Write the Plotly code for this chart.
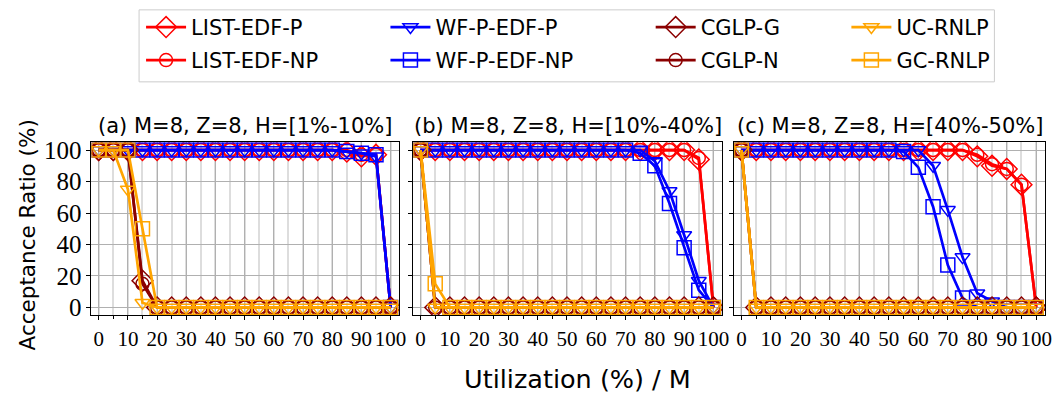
import plotly.graph_objects as go

W, H = 1062, 405

utilization = [0, 5, 10, 15, 20, 25, 30, 35, 40, 45, 50, 55, 60, 65, 70, 75, 80, 85, 90, 95, 100]

panel_titles = ["(a) M=8, Z=8, H=[1%-10%]", "(b) M=8, Z=8, H=[10%-40%]", "(c) M=8, Z=8, H=[40%-50%]"]
series_names = ["LIST-EDF-P", "LIST-EDF-NP", "WF-P-EDF-P", "WF-P-EDF-NP", "CGLP-G", "CGLP-N", "UC-RNLP", "GC-RNLP"]

# Panel (a)
a_list_p  = [100]*17 + [99, 96, 97, 0]
a_list_np = [100]*17 + [100, 97, 97, 0]
a_wf_p    = [100]*17 + [99, 98, 96, 0]
a_wf_np   = [100]*17 + [99, 98, 97, 0]
a_cglp_g  = [100, 100, 100, 17, 0] + [0]*16
a_cglp_n  = [100, 100, 100, 15, 0] + [0]*16
a_uc      = [100, 100, 75, 3, 0] + [0]*16
a_gc      = [100, 100, 100, 50, 0] + [0]*16

# Panel (b)
b_list_p  = [100]*19 + [94, 0]
b_list_np = [100]*19 + [95, 0]
b_wf_p    = [100]*16 + [93, 74, 46, 17, 0]
b_wf_np   = [100]*15 + [98, 90, 66, 38, 11, 0]
b_cglp_g  = [100, 0] + [0]*19
b_cglp_n  = [100, 0] + [0]*19
b_uc      = [100, 0] + [0]*19
b_gc      = [100, 15] + [0]*19

# Panel (c)
c_list_p  = [100]*16 + [96, 90, 88, 78, 0]
c_list_np = [100]*16 + [97, 91, 88, 78, 0]
c_wf_p    = [100]*13 + [90, 62, 32, 9, 4, 0, 0, 0]
c_wf_np   = [100]*11 + [99, 89, 64, 27, 6, 0, 0, 0, 0, 0]
c_cglp_g  = [100, 0] + [0]*19
c_cglp_n  = [100, 0] + [0]*19
c_uc      = [100, 0] + [0]*19
c_gc      = [100, 0] + [0]*19

panels = [
    [a_list_p, a_list_np, a_wf_p, a_wf_np, a_cglp_g, a_cglp_n, a_uc, a_gc],
    [b_list_p, b_list_np, b_wf_p, b_wf_np, b_cglp_g, b_cglp_n, b_uc, b_gc],
    [c_list_p, c_list_np, c_wf_p, c_wf_np, c_cglp_g, c_cglp_n, c_uc, c_gc],
]

colors = ["#ff0000", "#ff0000", "#0000ff", "#0000ff", "#8b0000", "#8b0000", "#ffa500", "#ffa500"]
symbols = ["diamond-open", "circle-open", "triangle-down-open", "square-open",
           "diamond-open", "circle-open", "triangle-down-open", "square-open"]
msizes = [16, 13, 13, 14, 16, 13, 13, 14]

xdoms = [(92, 402), (416, 727), (739, 1052)]
ytop, ybot = 141, 319

fig = go.Figure()

leg_cols = [142, 388, 655, 852]
leg_rows = [23, 57]

for p, data in enumerate(panels):
    xa = "x" if p == 0 else f"x{p+1}"
    ya = "y" if p == 0 else f"y{p+1}"
    for i, vals in enumerate(data):
        legname = "legend" if i == 0 else f"legend{i+1}"
        fig.add_trace(go.Scatter(
            x=utilization, y=vals, name=series_names[i], mode="lines+markers",
            line=dict(color=colors[i], width=2.7),
            marker=dict(symbol=symbols[i], size=msizes[i], color=colors[i], line=dict(width=1.5, color=colors[i])),
            xaxis=xa, yaxis=ya, showlegend=(p == 0), legend=legname,
        ))

xtickfont = dict(family="Liberation Serif", size=21, color="#000")
ytickfont = dict(family="Liberation Serif", size=25, color="#000")
layout = dict(
    width=W, height=H, margin=dict(l=0, r=0, t=0, b=0),
    plot_bgcolor="white", paper_bgcolor="white",
)
for p, (x0, x1) in enumerate(xdoms):
    xk = "xaxis" if p == 0 else f"xaxis{p+1}"
    yk = "yaxis" if p == 0 else f"yaxis{p+1}"
    xa = "x" if p == 0 else f"x{p+1}"
    layout[xk] = dict(
        domain=[x0 / W, x1 / W], range=[-2.5, 103], anchor="y" if p == 0 else f"y{p+1}",
        tickvals=list(range(0, 101, 10)), ticks="outside", ticklen=4, tickcolor="#000",
        showline=True, mirror=True, linecolor="#000", linewidth=1,
        showgrid=True, gridcolor="#b0b0b0", gridwidth=1, zeroline=False,
        tickfont=xtickfont,
        minor=dict(dtick=5, tick0=0, ticks="outside", ticklen=2.5, tickcolor="#000",
                   showgrid=True, gridcolor="#dddddd", gridwidth=1.5),
    )
    layout[yk] = dict(
        domain=[1 - ybot / H, 1 - ytop / H], range=[-5, 105], anchor=xa,
        tickvals=list(range(0, 101, 20)), ticks="outside", ticklen=4, tickcolor="#000",
        showline=True, mirror=True, linecolor="#000", linewidth=1,
        showgrid=True, gridcolor="#b0b0b0", gridwidth=1, zeroline=False,
        showticklabels=(p == 0), tickfont=ytickfont,
    )

annotations = []
for p, (x0, x1) in enumerate(xdoms):
    annotations.append(dict(
        text=panel_titles[p], x=(x0 + x1) / 2 / W, y=1 - 124 / H, xref="paper", yref="paper",
        showarrow=False, xanchor="center", yanchor="middle",
        font=dict(family="DejaVu Sans", size=21, color="#000"),
    ))
annotations.append(dict(
    text="Acceptance Ratio (%)", x=28 / W, y=1 - 236 / H, xref="paper", yref="paper",
    showarrow=False, textangle=-90, xanchor="center", yanchor="middle",
    font=dict(family="DejaVu Sans", size=21.5, color="#000"),
))
annotations.append(dict(
    text="Utilization (%) / M", x=581 / W, y=1 - 384 / H, xref="paper", yref="paper",
    showarrow=False, xanchor="center", yanchor="middle",
    font=dict(family="DejaVu Sans", size=25.5, color="#000"),
))
layout["annotations"] = annotations

layout["shapes"] = [dict(
    type="rect", xref="paper", yref="paper",
    x0=140 / W, x1=1001 / W, y0=1 - 79 / H, y1=1 - 5 / H,
    line=dict(color="#cccccc", width=1), fillcolor="rgba(255,255,255,0.8)", layer="below",
)]

for i in range(8):
    legname = "legend" if i == 0 else f"legend{i+1}"
    col = i // 2
    row = i % 2
    layout[legname] = dict(
        x=leg_cols[col] / W, y=1 - leg_rows[row] / H, xanchor="left", yanchor="middle",
        xref="paper", yref="paper",
        bgcolor="rgba(0,0,0,0)", borderwidth=0,
        font=dict(family="DejaVu Sans", size=21, color="#000"),
        itemwidth=40,
    )

fig.update_layout(**layout)
fig.write_html("out.html")
